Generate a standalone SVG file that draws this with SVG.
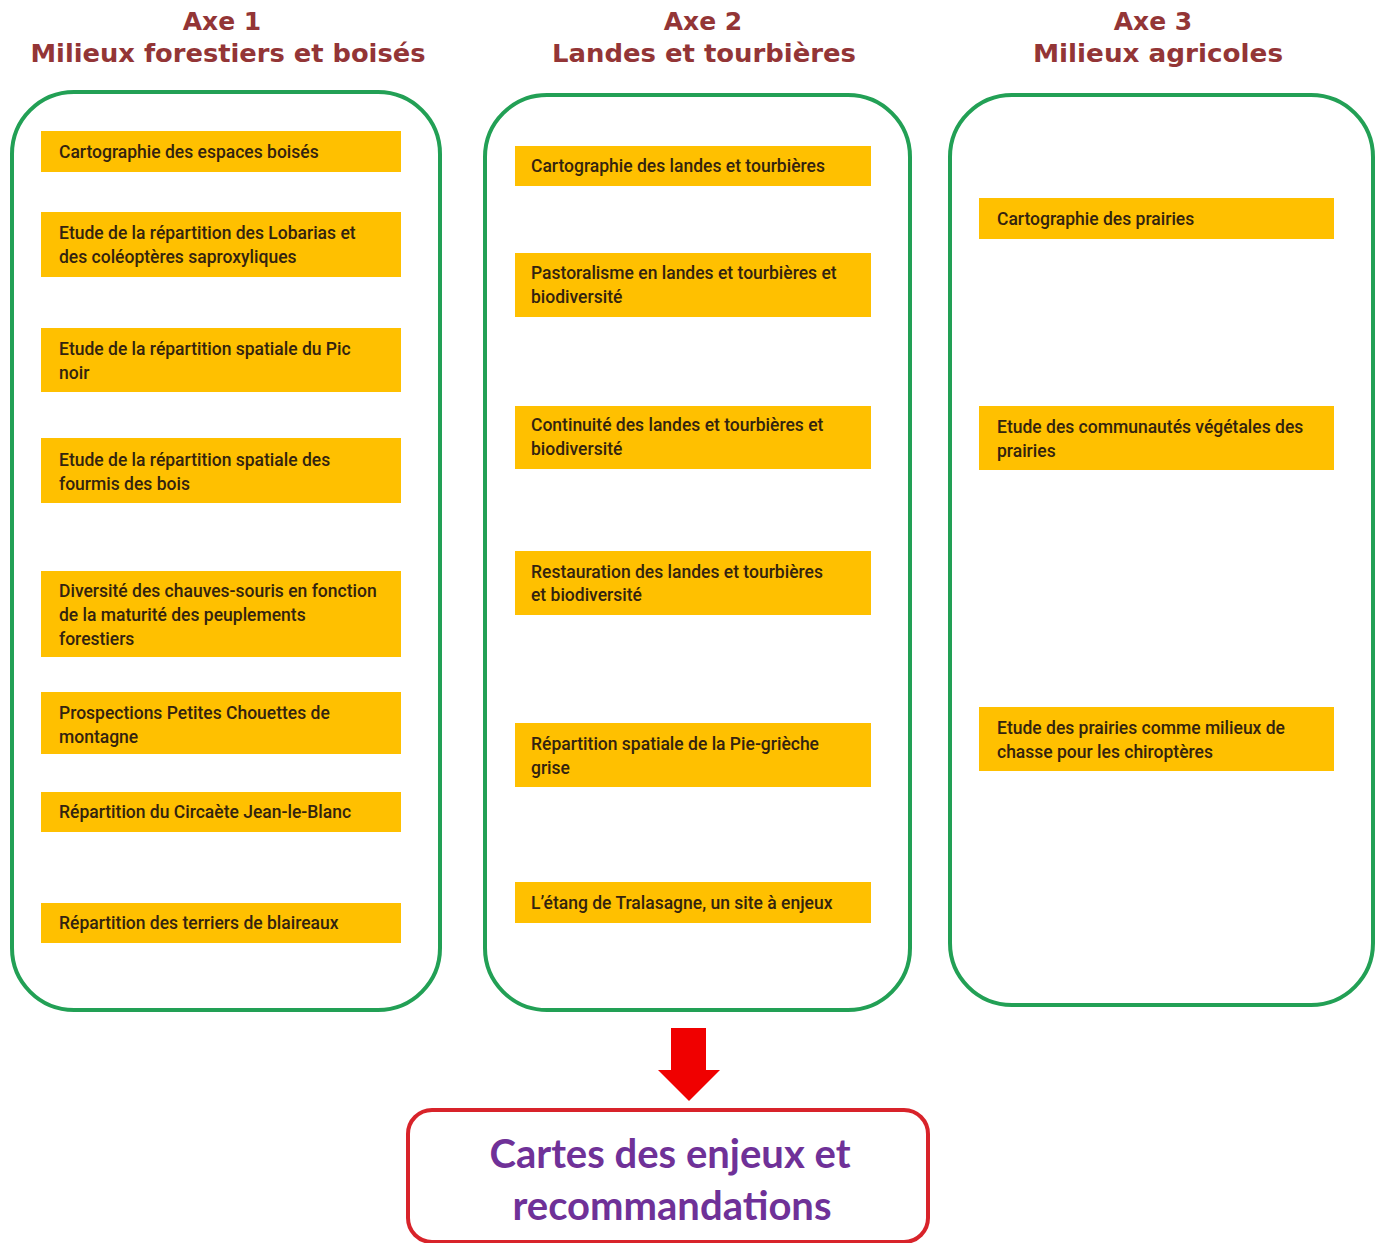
<svg xmlns="http://www.w3.org/2000/svg" width="1381" height="1243" viewBox="0 0 1381 1243">
<style>
.hd{font-family:"DejaVu Sans",Verdana,sans-serif;font-weight:bold;font-size:25px;fill:#933536;text-anchor:middle}
.axe{fill:none;stroke:#22a055;stroke-width:4}
.box{fill:#FFC000}
.t{font-family:Roboto,"Liberation Sans",sans-serif;font-weight:500;font-size:17.5px;fill:#33230f}
.out{fill:#fff;stroke:#d8232a;stroke-width:4}
.ot{font-family:Lato,"Liberation Sans",sans-serif;font-weight:bold;font-size:40px;fill:#6f3198;text-anchor:middle}
</style>
<rect width="1381" height="1243" fill="#fff"/>
<g id="headers">
<text class="hd" x="222" y="30">Axe 1</text>
<text class="hd" x="228" y="62" textLength="395" lengthAdjust="spacingAndGlyphs">Milieux forestiers et boisés</text>
<text class="hd" x="703" y="30">Axe 2</text>
<text class="hd" x="704" y="62" textLength="304" lengthAdjust="spacingAndGlyphs">Landes et tourbières</text>
<text class="hd" x="1153" y="30">Axe 3</text>
<text class="hd" x="1158" y="62" textLength="250" lengthAdjust="spacingAndGlyphs">Milieux agricoles</text>
</g>
<g id="axe1">
<rect class="axe" x="12" y="92" width="428" height="918" rx="62"/>
<g id="a1n1"><rect class="box" x="41" y="131" width="360" height="41"/><text class="t" x="59" y="158">Cartographie des espaces boisés</text></g>
<g id="a1n2"><rect class="box" x="41" y="212" width="360" height="65"/><text class="t" x="59" y="239">Etude de la répartition des Lobarias et</text><text class="t" x="59" y="263">des coléoptères saproxyliques</text></g>
<g id="a1n3"><rect class="box" x="41" y="328" width="360" height="64"/><text class="t" x="59" y="355">Etude de la répartition spatiale du Pic</text><text class="t" x="59" y="379">noir</text></g>
<g id="a1n4"><rect class="box" x="41" y="438" width="360" height="65"/><text class="t" x="59" y="466">Etude de la répartition spatiale des</text><text class="t" x="59" y="490">fourmis des bois</text></g>
<g id="a1n5"><rect class="box" x="41" y="571" width="360" height="86"/><text class="t" x="59" y="597">Diversité des chauves-souris en fonction</text><text class="t" x="59" y="621">de la maturité des peuplements</text><text class="t" x="59" y="645">forestiers</text></g>
<g id="a1n6"><rect class="box" x="41" y="692" width="360" height="62"/><text class="t" x="59" y="719">Prospections Petites Chouettes de</text><text class="t" x="59" y="743">montagne</text></g>
<g id="a1n7"><rect class="box" x="41" y="792" width="360" height="40"/><text class="t" x="59" y="818">Répartition du Circaète Jean-le-Blanc</text></g>
<g id="a1n8"><rect class="box" x="41" y="903" width="360" height="40"/><text class="t" x="59" y="929">Répartition des terriers de blaireaux</text></g>
</g>
<g id="axe2">
<rect class="axe" x="485" y="95" width="425" height="915" rx="62"/>
<g id="a2n1"><rect class="box" x="515" y="146" width="356" height="40"/><text class="t" x="531" y="172">Cartographie des landes et tourbières</text></g>
<g id="a2n2"><rect class="box" x="515" y="253" width="356" height="64"/><text class="t" x="531" y="279">Pastoralisme  en landes et tourbières et</text><text class="t" x="531" y="303">biodiversité</text></g>
<g id="a2n3"><rect class="box" x="515" y="406" width="356" height="63"/><text class="t" x="531" y="431">Continuité des  landes et tourbières et</text><text class="t" x="531" y="455">biodiversité</text></g>
<g id="a2n4"><rect class="box" x="515" y="551" width="356" height="64"/><text class="t" x="531" y="578">Restauration  des landes et tourbières</text><text class="t" x="531" y="601">et biodiversité</text></g>
<g id="a2n5"><rect class="box" x="515" y="723" width="356" height="64"/><text class="t" x="531" y="750">Répartition spatiale de la Pie-grièche</text><text class="t" x="531" y="774">grise</text></g>
<g id="a2n6"><rect class="box" x="515" y="882" width="356" height="41"/><text class="t" x="531" y="909">L’étang de Tralasagne, un site à enjeux</text></g>
</g>
<g id="axe3">
<rect class="axe" x="950" y="95" width="423" height="910" rx="62"/>
<g id="a3n1"><rect class="box" x="979" y="198" width="355" height="41"/><text class="t" x="997" y="225">Cartographie des prairies</text></g>
<g id="a3n2"><rect class="box" x="979" y="406" width="355" height="64"/><text class="t" x="997" y="433">Etude des communautés végétales des</text><text class="t" x="997" y="457">prairies</text></g>
<g id="a3n3"><rect class="box" x="979" y="707" width="355" height="64"/><text class="t" x="997" y="734">Etude des prairies comme milieux de</text><text class="t" x="997" y="758">chasse pour les chiroptères</text></g>
</g>
<g id="connectors">
<polygon points="671,1028 706,1028 706,1070 720,1070 689,1101 658,1070 671,1070" fill="#f00000"/>
</g>
<g id="result">
<rect class="out" x="408" y="1110" width="520" height="132" rx="24"/>
<text class="ot" x="670" y="1168">Cartes des enjeux et</text>
<text class="ot" x="672" y="1220">recommandations</text>
</g>
</svg>
